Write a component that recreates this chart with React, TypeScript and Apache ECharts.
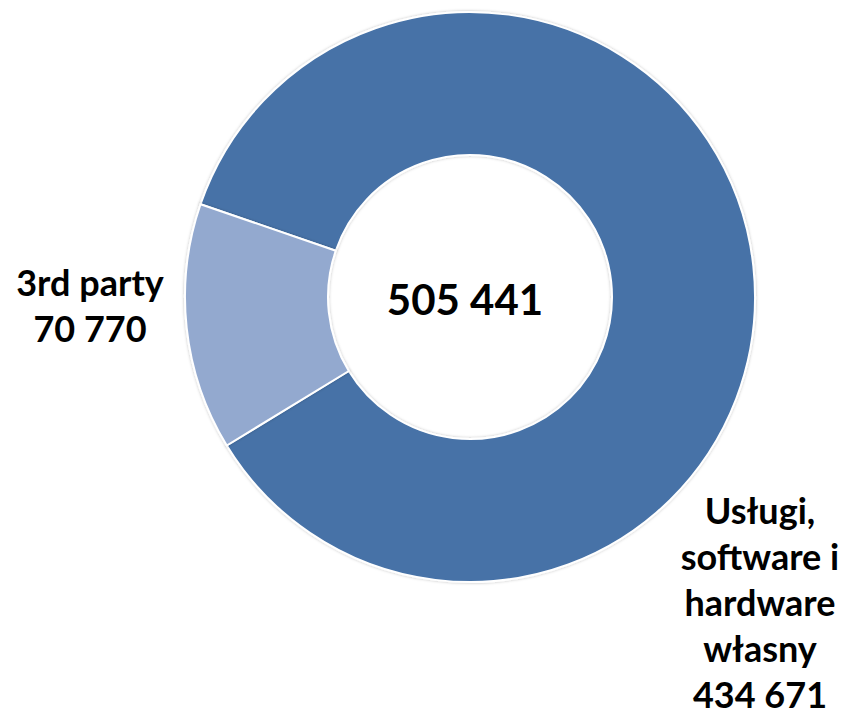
import React, { useEffect, useRef } from "react";
import * as echarts from "echarts";

const categories = ["Usługi,\nsoftware i\nhardware\nwłasny", "3rd party"];
const values = [434671, 70770];
const valueLabels = ["434 671", "70 770"];
const totalLabel = "505 441";
const colors = ["#4672A7", "#93A9CF"];

const labelPos = [
  { x: 760, y: 602 },
  { x: 90, y: 305 },
];

export default function App() {
  const ref = useRef<HTMLDivElement>(null);
  useEffect(() => {
    if (!ref.current) return;
    const chart = echarts.init(ref.current, null, { renderer: "svg" });
    chart.setOption({
      animation: false,
      backgroundColor: "#ffffff",
      graphic: [
        {
          type: "text",
          z: 100,
          x: 465,
          y: 299,
          style: {
            text: totalLabel,
            font: "bold 42px Lato",
            fill: "#000000",
            align: "center",
            verticalAlign: "middle",
          },
        },
      ],
      series: [
        {
          type: "pie",
          center: [470, 297],
          radius: [142, 285],
          startAngle: 161,
          clockwise: true,
          avoidLabelOverlap: false,
          itemStyle: {
            borderColor: "#ffffff",
            borderWidth: 2,
            shadowColor: "rgba(0,0,0,0.25)",
            shadowBlur: 3,
          },
          label: {
            show: true,
            position: "outside",
            formatter: (p: any) => `${categories[p.dataIndex]}\n${valueLabels[p.dataIndex]}`,
            fontFamily: "Lato",
            fontWeight: "bold",
            fontSize: 36,
            lineHeight: 46,
            color: "#000000",
            align: "center",
          },
          labelLine: { show: false },
          labelLayout: (params: any) => ({
            x: labelPos[params.dataIndex].x,
            y: labelPos[params.dataIndex].y,
            align: "center",
            verticalAlign: "middle",
          }),
          data: categories.map((c, i) => ({
            name: c,
            value: values[i],
            itemStyle: { color: colors[i] },
          })),
        },
      ],
    });
    return () => chart.dispose();
  }, []);
  return (
    <div
      ref={ref}
      style={{ position: "fixed", left: 0, top: 0, width: 847, height: 718 }}
    />
  );
}
